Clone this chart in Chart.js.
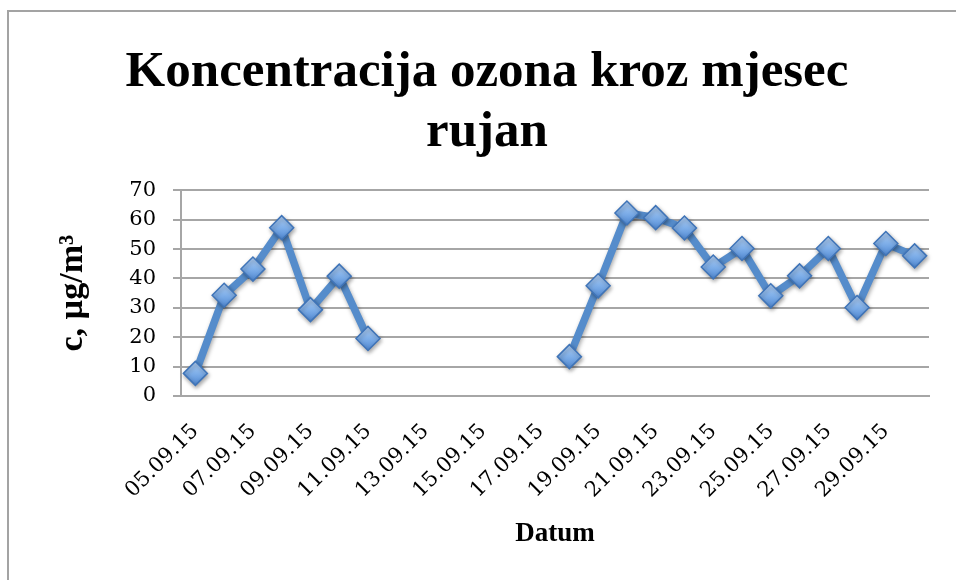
<!DOCTYPE html>
<html>
<head>
<meta charset="utf-8">
<script src="https://cdn.jsdelivr.net/npm/chart.js@4.4.1/dist/chart.umd.min.js"></script>
<style>
  html, body { margin: 0; padding: 0; background: #fff; }
  #wrap { position: relative; width: 956px; height: 580px; overflow: hidden; }
  #frame { position: absolute; left: 7px; top: 10px; width: 1000px; height: 700px;
           border-left: 2px solid #a3a3a3; border-top: 2px solid #a3a3a3; }
  canvas { position: absolute; left: 0; top: 0; }
</style>
</head>
<body>
<div id="wrap">
  <div id="frame"></div>
  <canvas id="c" width="956" height="580"></canvas>
</div>
<script>
// ---- data ----
const dates = [
  '05.09.15','06.09.15','07.09.15','08.09.15','09.09.15','10.09.15','11.09.15',
  '12.09.15','13.09.15','14.09.15','15.09.15','16.09.15','17.09.15',
  '18.09.15','19.09.15','20.09.15','21.09.15','22.09.15','23.09.15','24.09.15',
  '25.09.15','26.09.15','27.09.15','28.09.15','29.09.15','30.09.15'
];
const ozone = [
  7.7, 34.3, 43.2, 57.3, 29.4, 40.8, 19.6,
  null, null, null, null, null, null,
  13.4, 37.5, 62.3, 60.7, 57.2, 43.9, 50.2,
  34.1, 40.9, 50.2, 30.1, 51.9, 47.7
];
const yTicks = [0, 10, 20, 30, 40, 50, 60, 70];
const titleLines = ['Koncentracija ozona kroz mjesec', 'rujan'];
const xTitle = 'Datum';
const yTitle = 'c, µg/m³';

const serif = "'Liberation Serif', 'Times New Roman', serif";
const tickSerif = "'DejaVu Serif', serif";

const shadowPlugin = {
  id: 'lineShadow',
  beforeDatasetDraw(chart) {
    const ctx = chart.ctx;
    ctx.save();
    ctx.shadowColor = 'rgba(0,0,0,0.35)';
    ctx.shadowBlur = 4;
    ctx.shadowOffsetX = 1;
    ctx.shadowOffsetY = 2;
  },
  afterDatasetDraw(chart) {
    chart.ctx.restore();
  }
};

new Chart(document.getElementById('c'), {
  type: 'line',
  data: {
    labels: dates,
    datasets: [{
      data: ozone,
      borderColor: '#558ccb',
      borderWidth: 7.5,
      spanGaps: false,
      tension: 0,
      pointStyle: 'rectRot',
      pointRadius: 12,
      pointHoverRadius: 12,
      pointBorderWidth: 1.5,
      pointBorderColor: '#3f74b8',
      pointBackgroundColor: (c) => {
        const chart = c.chart;
        const ys = chart.scales && chart.scales.y;
        if (!ys || !c.parsed || c.parsed.y == null) return '#72a5e2';
        const y = ys.getPixelForValue(c.parsed.y);
        if (!isFinite(y)) return '#72a5e2';
        const g = chart.ctx.createLinearGradient(0, y - 12, 0, y + 12);
        g.addColorStop(0, '#b4d2f6');
        g.addColorStop(0.5, '#7fafe9');
        g.addColorStop(1, '#4f88d3');
        return g;
      }
    }]
  },
  options: {
    responsive: false,
    animation: false,
    events: [],
    layout: { padding: { left: 45, right: 27, top: 0, bottom: 0 } },
    plugins: {
      legend: { display: false },
      tooltip: { enabled: false },
      title: {
        display: true,
        text: titleLines,
        color: '#000',
        font: { family: serif, size: 51, weight: 'bold', lineHeight: 1.18 },
        padding: { top: 43, bottom: 27 }
      }
    },
    scales: {
      x: {
        type: 'category',
        offset: true,
        grid: { display: false, drawTicks: false },
        border: { display: true, color: '#a6a6a6', width: 2 },
        ticks: {
          autoSkip: false,
          minRotation: 45,
          maxRotation: 45,
          padding: 23,
          color: '#000',
          font: { family: tickSerif, size: 21 },
          callback: (v, i) => (i % 2 === 0 ? dates[i] : '')
        },
        title: {
          display: true,
          text: xTitle,
          color: '#000',
          font: { family: serif, size: 27, weight: 'bold', lineHeight: 1.2 },
          padding: { top: 0, bottom: 30 }
        },
        afterFit: (s) => { s.height = 184; }
      },
      y: {
        min: 0,
        max: 70,
        afterBuildTicks: (s) => { s.ticks = yTicks.map(v => ({ value: v })); },
        grid: { color: '#a6a6a6', lineWidth: 2, drawTicks: true, tickLength: 8 },
        border: { display: true, color: '#a6a6a6', width: 2 },
        ticks: {
          autoSkip: false,
          padding: 17,
          color: '#000',
          font: { family: tickSerif, size: 21 }
        },
        title: {
          display: true,
          text: yTitle,
          color: '#000',
          font: { family: serif, size: 34, weight: 'bold', lineHeight: 1.2 },
          padding: { top: 8, bottom: 0 }
        },
        afterFit: (s) => { s.width = 136; }
      }
    }
  },
  plugins: [shadowPlugin]
});
</script>
</body>
</html>
